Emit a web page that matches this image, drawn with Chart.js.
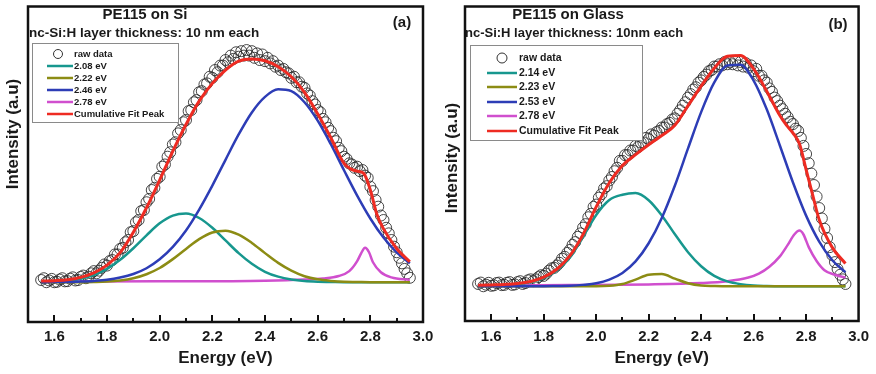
<!DOCTYPE html>
<html>
<head>
<meta charset="utf-8">
<script src="https://cdn.jsdelivr.net/npm/chart.js@4.4.1/dist/chart.umd.min.js"></script>
<style>
  html, body { margin: 0; padding: 0; background: #fff; }
  #wrap { position: relative; width: 876px; height: 374px; }
  .panel { position: absolute; top: 0; height: 374px; }
</style>
</head>
<body>
<div id="wrap">
  <div class="panel" style="left:0;width:440px"><canvas id="chartA"></canvas></div>
  <div class="panel" style="left:440px;width:436px"><canvas id="chartB"></canvas></div>
</div>
<script>
// energy grid used by the fitted components (eV)
const energy = [1.55,1.60,1.65,1.70,1.75,1.80,1.85,1.90,1.95,2.00,2.05,2.10,2.15,2.20,2.25,2.30,2.35,2.40,2.45,2.50,2.55,2.60,2.65,2.70,2.75,2.80,2.85,2.90,2.95]
// cumulative fit has a few extra points around the 2.78 eV shoulder
const energyFit = [1.55,1.60,1.65,1.70,1.75,1.80,1.85,1.90,1.95,2.00,2.05,2.10,2.15,2.20,2.25,2.30,2.35,2.40,2.45,2.50,2.55,2.60,2.65,2.70,2.725,2.75,2.775,2.80,2.825,2.85,2.90,2.95]
// raw PL data grid
const energyRaw = [
    1.55,1.56,1.57,1.58,1.59,1.60,1.61,1.62,1.63,1.64,
    1.65,1.66,1.67,1.68,1.69,1.70,1.71,1.72,1.73,1.74,
    1.75,1.76,1.77,1.78,1.79,1.80,1.81,1.82,1.83,1.84,
    1.85,1.86,1.87,1.88,1.89,1.90,1.91,1.92,1.93,1.94,
    1.95,1.96,1.97,1.98,1.99,2.00,2.01,2.02,2.03,2.04,
    2.05,2.06,2.07,2.08,2.09,2.10,2.11,2.12,2.13,2.14,
    2.15,2.16,2.17,2.18,2.19,2.20,2.21,2.22,2.23,2.24,
    2.25,2.26,2.27,2.28,2.29,2.30,2.31,2.32,2.33,2.34,
    2.35,2.36,2.37,2.38,2.39,2.40,2.41,2.42,2.43,2.44,
    2.45,2.46,2.47,2.48,2.49,2.50,2.51,2.52,2.53,2.54,
    2.55,2.56,2.57,2.58,2.59,2.60,2.61,2.62,2.63,2.64,
    2.65,2.66,2.67,2.68,2.69,2.70,2.71,2.72,2.73,2.74,
    2.75,2.76,2.77,2.78,2.79,2.80,2.81,2.82,2.83,2.84,
    2.85,2.86,2.87,2.88,2.89,2.90,2.91,2.92,2.93,2.94,
    2.95]

// ---- panel (a): PE115 on Si
const labelsA = ['raw data', '2.08 eV', '2.22 eV', '2.46 eV', '2.78 eV', 'Cumulative Fit Peak']
const rawA = [
    .010,.018,.000,.008,.015,.000,.002,.012,.018,.004,
    .005,.016,.022,.008,.010,.024,.030,.018,.025,.040,
    .050,.040,.052,.065,.080,.075,.095,.100,.125,.125,
    .150,.155,.180,.190,.225,.230,.270,.280,.320,.325,
    .360,.375,.415,.425,.465,.475,.520,.530,.565,.585,
    .620,.630,.670,.685,.720,.730,.770,.775,.810,.820,
    .855,.860,.890,.895,.925,.920,.955,.945,.975,.975,
    1.000,.990,1.020,1.005,1.035,1.015,1.040,1.020,1.045,1.020,
    1.040,1.010,1.030,1.000,1.025,.995,1.010,.985,.995,.970,
    .975,.955,.960,.945,.940,.920,.925,.900,.900,.880,
    .875,.850,.840,.815,.800,.775,.765,.735,.720,.695,
    .680,.650,.635,.605,.590,.565,.555,.535,.530,.515,
    .520,.500,.505,.480,.470,.430,.410,.370,.340,.300,
    .280,.245,.220,.190,.160,.135,.110,.085,.060,.040,
    .020]
const tealA = [0.001,0.003,0.007,0.016,0.032,0.060,0.101,0.153,0.211,0.265,0.300,0.309,0.289,0.245,0.188,0.131,0.083,0.047,0.025,0.012,0.005,0.002,0.001,0,0,0,0,0,0]
const oliveA = [0,0,0,0,0.001,0.003,0.008,0.018,0.036,0.064,0.104,0.150,0.194,0.224,0.232,0.214,0.177,0.131,0.087,0.052,0.027,0.013,0.006,0.002,0.001,0,0,0,0]
const blueA = [0,0.001,0.001,0.003,0.006,0.011,0.021,0.037,0.063,0.103,0.159,0.233,0.327,0.435,0.551,0.665,0.764,0.834,0.868,0.860,0.810,0.727,0.621,0.504,0.390,0.287,0.201,0.134,0.085]
const magEnergyA = [1.55,2.00,2.40,2.55,2.62,2.68,2.72,2.75,2.765,2.78,2.795,2.81,2.84,2.88,2.95]
const magA = [0.003,0.004,0.007,0.012,0.017,0.028,0.050,0.095,0.130,0.155,0.135,0.090,0.045,0.022,0.010]
const fitA = [0.005,0.007,0.011,0.022,0.042,0.077,0.133,0.225,0.335,0.460,0.590,0.710,0.815,0.895,0.955,0.995,1.005,0.997,0.970,0.925,0.855,0.758,0.650,0.535,0.510,0.500,0.490,0.415,0.305,0.240,0.152,0.092]

// ---- panel (b): PE115 on Glass
const labelsB = ['raw data', '2.14 eV', '2.23 eV', '2.53 eV', '2.78 eV', 'Cumulative Fit Peak']
const rawB = [
    .010,.016,.000,.007,.015,.002,.004,.014,.016,.005,
    .006,.015,.018,.006,.008,.018,.022,.010,.014,.026,
    .030,.022,.030,.040,.048,.045,.055,.068,.078,.080,
    .090,.102,.120,.128,.145,.158,.180,.192,.215,.230,
    .255,.270,.300,.315,.345,.355,.385,.400,.425,.435,
    .460,.475,.500,.515,.545,.545,.570,.570,.590,.590,
    .610,.605,.625,.625,.645,.640,.660,.655,.670,.675,
    .690,.690,.705,.710,.725,.730,.750,.765,.785,.800,
    .820,.835,.855,.865,.885,.895,.910,.920,.935,.940,
    .955,.955,.965,.960,.975,.965,.975,.965,.980,.960,
    .975,.955,.970,.950,.960,.935,.945,.915,.915,.895,
    .885,.860,.845,.820,.805,.785,.770,.750,.735,.715,
    .705,.685,.675,.645,.610,.575,.535,.490,.440,.390,
    .340,.295,.250,.210,.170,.135,.105,.075,.050,.030,
    .010]
const tealB = [0.001,0.002,0.004,0.008,0.017,0.035,0.068,0.125,0.215,0.310,0.375,0.398,0.405,0.374,0.308,0.226,0.148,0.087,0.045,0.021,0.009,0.003,0.001,0,0,0,0,0,0]
const oliveB = [0,0,0,0,0,0,0,0,0,0,0.002,0.010,0.029,0.050,0.053,0.033,0.013,0.003,0.001,0,0,0,0,0,0,0,0,0,0]
const blueB = [0,0,0,0,0,0,0.001,0.002,0.006,0.013,0.029,0.058,0.108,0.187,0.297,0.438,0.599,0.757,0.886,0.960,0.963,0.894,0.769,0.612,0.451,0.307,0.194,0.113,0.061]
const magEnergyB = [1.55,1.90,2.20,2.40,2.50,2.58,2.62,2.66,2.70,2.73,2.755,2.775,2.79,2.81,2.84,2.87,2.91,2.95]
const magB = [0.003,0.005,0.008,0.014,0.022,0.038,0.055,0.085,0.130,0.180,0.225,0.242,0.225,0.170,0.110,0.070,0.050,0.038]
const fitB = [0.004,0.006,0.008,0.012,0.021,0.040,0.074,0.133,0.225,0.345,0.450,0.525,0.572,0.615,0.655,0.700,0.785,0.870,0.948,1.000,1.003,0.945,0.848,0.742,0.700,0.666,0.618,0.507,0.397,0.289,0.168,0.099]

const xTicks = { min: 1.5, max: 3.0, step: 0.1 }

const FONT = '"Liberation Sans", Arial, Helvetica, sans-serif'
const colors = ['#3a3a3a', '#17978e', '#8c8c14', '#2d3db6', '#d04fce', '#ee2b22']

Chart.defaults.font.family = FONT
Chart.defaults.color = '#1a1a1a'

function pts(xs, ys) {
    return xs.map((x, i) => ({ x: x, y: ys[i] }))
}

// frame, inward ticks, titles and the boxed legend
const decor = {
    id: 'decor',
    afterDraw(chart, args, o) {
        const ctx = chart.ctx
        const a = chart.chartArea
        const xs = chart.scales.x
        ctx.save()
        // inward tick marks
        ctx.strokeStyle = '#111'
        ctx.lineWidth = 2
        xs.ticks.forEach(t => {
            if (t.value <= xTicks.min + 1e-6 || t.value >= xTicks.max - 1e-6) return
            const px = Math.round(xs.getPixelForValue(t.value))
            const major = Math.round(t.value * 10) % 2 === 0
            ctx.beginPath()
            ctx.moveTo(px, a.bottom)
            ctx.lineTo(px, a.bottom - (major ? 7 : 4))
            ctx.stroke()
        })
        // frame
        ctx.lineWidth = 2.5
        ctx.strokeRect(a.left, a.top, a.right - a.left, a.bottom - a.top)

        // titles
        ctx.fillStyle = '#1a1a1a'
        ctx.textBaseline = 'middle'
        ctx.font = 'bold 15px ' + FONT
        ctx.textAlign = 'center'
        ctx.fillText(o.title, o.titleX, o.titleY)
        ctx.fillText(o.tag, o.tagX, o.tagY)
        ctx.font = 'bold ' + o.subSize + 'px ' + FONT
        ctx.textAlign = 'left'
        ctx.fillText(o.sub, o.subX, o.subY)

        // y axis title
        ctx.save()
        ctx.translate(o.yTitleX, o.yTitleY)
        ctx.rotate(-Math.PI / 2)
        ctx.textAlign = 'center'
        ctx.font = 'bold 17px ' + FONT
        ctx.fillText('Intensity (a.u)', 0, 0)
        ctx.restore()

        // legend
        const L = o.legend
        ctx.fillStyle = '#fff'
        ctx.fillRect(L.x, L.y, L.w, L.h)
        ctx.strokeStyle = '#8a8a8a'
        ctx.lineWidth = 1
        ctx.strokeRect(L.x + 0.5, L.y + 0.5, L.w, L.h)
        ctx.font = 'bold ' + L.font + 'px ' + FONT
        ctx.textAlign = 'left'
        chart.data.datasets.forEach((ds, i) => {
            const y = L.rows[i]
            if (i === 0) {
                ctx.strokeStyle = '#333'
                ctx.lineWidth = 1
                ctx.beginPath()
                ctx.arc(L.circleX, y, L.r, 0, Math.PI * 2)
                ctx.stroke()
            } else {
                ctx.strokeStyle = ds.borderColor
                ctx.lineWidth = 2.5
                ctx.beginPath()
                ctx.moveTo(L.lineX0, y)
                ctx.lineTo(L.lineX1, y)
                ctx.stroke()
            }
            ctx.fillStyle = '#1a1a1a'
            ctx.fillText(ds.label, L.textX, y + 0.5)
        })
        ctx.restore()
    }
}

function makePanel(id, labels, series, yRange, layout, deco) {
    const [raw, teal, olive, blue, mag, fit] = series
    const line = (i, data, w, order) => ({
        label: labels[i], data: data, showLine: true, borderColor: colors[i],
        borderWidth: w, pointRadius: 0, cubicInterpolationMode: 'monotone', order: order
    })
    return new Chart(document.getElementById(id), {
        type: 'scatter',
        data: {
            datasets: [
                { label: labels[0], data: raw, showLine: false, pointRadius: 5.5, pointStyle: 'circle',
                  borderColor: 'rgba(40,40,40,0.85)', backgroundColor: 'rgba(255,255,255,0)', borderWidth: 1, order: 10 },
                line(1, teal, 2.5, 4),
                line(2, olive, 2.5, 3),
                line(3, blue, 2.5, 2),
                line(4, mag, 2.5, 5),
                line(5, fit, 3, 0)
            ]
        },
        options: {
            responsive: true,
            maintainAspectRatio: false,
            animation: false,
            devicePixelRatio: 1,
            layout: { padding: { top: 4, right: layout.right, left: 0, bottom: 0 } },
            plugins: { legend: { display: false }, tooltip: { enabled: false }, decor: deco },
            scales: {
                x: {
                    type: 'linear', min: xTicks.min, max: xTicks.max,
                    ticks: {
                        stepSize: xTicks.step, autoSkip: false, maxRotation: 0, padding: layout.tickPad,
                        font: { size: 15, weight: 'bold' }, color: '#1a1a1a',
                        callback: v => (Math.round(v * 10) % 2 === 0 && v > xTicks.min + 1e-6) ? v.toFixed(1) : ''
                    },
                    grid: { display: false, drawTicks: false },
                    border: { display: false },
                    title: { display: true, text: 'Energy (eV)', font: { size: 17, weight: 'bold' },
                             color: '#1a1a1a', padding: { top: 0, bottom: 5 } },
                    afterFit: s => { s.height = layout.xHeight }
                },
                y: {
                    min: yRange[0], max: yRange[1],
                    ticks: { display: false },
                    grid: { display: false, drawTicks: false },
                    border: { display: false },
                    afterFit: s => { s.width = layout.yWidth }
                }
            }
        },
        plugins: [decor]
    })
}

makePanel('chartA', labelsA,
    [pts(energyRaw, rawA), pts(energy, tealA), pts(energy, oliveA), pts(energy, blueA), pts(magEnergyA, magA), pts(energyFit, fitA)],
    [-0.179, 1.241],
    { right: 17, yWidth: 28, xHeight: 52, tickPad: 6 },
    { title: 'PE115 on Si', titleX: 145, titleY: 15, tag: '(a)', tagX: 402, tagY: 23,
      sub: 'nc-Si:H layer thickness: 10 nm each', subX: 29, subY: 33, subSize: 13.5,
      yTitleX: 13, yTitleY: 134,
      legend: { x: 32, y: 43, w: 146, h: 79, rows: [54, 66, 78, 90, 102, 114], font: 9.5,
                circleX: 58, r: 4.5, lineX0: 47, lineX1: 73, textX: 74 } })

makePanel('chartB', labelsB,
    [pts(energyRaw, rawB), pts(energy, tealB), pts(energy, oliveB), pts(energy, blueB), pts(magEnergyB, magB), pts(energyFit, fitB)],
    [-0.151, 1.216],
    { right: 15, yWidth: 25, xHeight: 53, tickPad: 7 },
    { title: 'PE115 on Glass', titleX: 128, titleY: 15, tag: '(b)', tagX: 398, tagY: 25,
      sub: 'nc-Si:H layer thickness: 10nm each', subX: 25, subY: 33, subSize: 13,
      yTitleX: 12, yTitleY: 158,
      legend: { x: 30, y: 45, w: 172, h: 95, rows: [58, 73, 87, 102, 116, 131], font: 10.5,
                circleX: 62, r: 5, lineX0: 47, lineX1: 77, textX: 79 } })
</script>
</body>
</html>
